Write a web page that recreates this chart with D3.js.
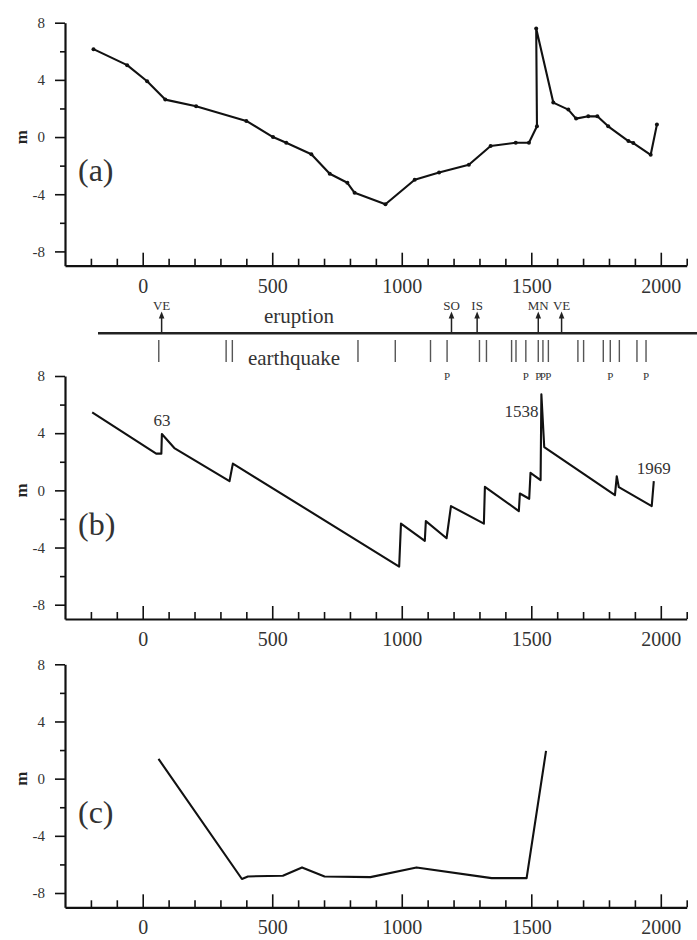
<!DOCTYPE html>
<html>
<head>
<meta charset="utf-8">
<script src="https://cdn.jsdelivr.net/npm/d3@7"></script>
<style>
body{margin:0;background:#fff}
svg text{font-family:"Liberation Serif","DejaVu Serif","Times New Roman",serif}
</style>
</head>
<body>
<div id="chart"></div>
<script>
// panel (a) - measured levels
var yearsA = [-190,-60,17,87,206,400,503,554,651,722,790,818,937,1050,1144,1259,1343,1440,1491,1522,1519,1585,1643,1673,1720,1755,1797,1875,1894,1961,1985];
var levelA = [6.15,5.03,3.9,2.62,2.15,1.13,0,-0.4,-1.2,-2.57,-3.2,-3.9,-4.7,-2.99,-2.48,-1.94,-0.63,-0.4,-0.4,0.75,7.6,2.41,1.92,1.29,1.45,1.45,0.75,-0.28,-0.42,-1.24,0.87];
// panel (b) - model
var yearsB = [-195,52,72,74,122,335,348,990,997,1089,1093,1173,1190,1317,1321,1452,1456,1492,1497,1536,1539,1550,1823,1830,1838,1965,1973];
var levelB = [5.45,2.57,2.57,3.94,2.96,0.64,1.87,-5.33,-2.33,-3.54,-2.15,-3.35,-1.1,-2.33,0.25,-1.45,-0.22,-0.59,1.22,0.71,6.72,3.03,-0.34,0.99,0.22,-1.1,0.64];
var notesB = ["63","1538","1969"];
var noteYearsB = [74,1539,1973];
// panel (c)
var yearsC = [61,383,406,541,615,702,879,1057,1347,1482,1557];
var levelC = [1.38,-7.02,-6.84,-6.79,-6.21,-6.84,-6.89,-6.21,-6.96,-6.96,1.94];
// events strip
var eruptionYears = [73,1192,1291,1527,1617];
var eruptionLabels = ["VE","SO","IS","MN","VE"];
var quakeYears = [62,322,346,831,975,1111,1175,1300,1327,1424,1441,1479,1527,1545,1566,1680,1702,1778,1805,1840,1908,1943];
var pYears = [1175,1479,1527,1545,1566,1805,1943];
// ticks
var xMajor = [0,500,1000,1500,2000];
var xMinor = [-200,-100,100,200,300,400,600,700,800,900,1100,1200,1300,1400,1600,1700,1800,1900,2100];
var yMajor = [-8,-4,0,4,8];
var yMinor = [-6,-2,2,6];

var W = 697, H = 940, PH = 243;
var svg = d3.select("#chart").append("svg").attr("width", W).attr("height", H);
var x = d3.scaleLinear().domain([-300,2100]).range([65,686.7]);
var plain = function(d){ return String(d); };

function styleAxis(s, size){
  s.attr("font-family", null).attr("font-size", null);
  s.selectAll("text").attr("font-size", size).attr("fill", "#333");
  s.selectAll("line").attr("stroke", "#111").attr("stroke-width", 1.6);
  s.select(".domain").attr("stroke", "#111").attr("stroke-width", 2.2);
}

function panel(top, years, vals, name, dots){
  var y = d3.scaleLinear().domain([-9,8]).range([top+PH, top]);
  var g = svg.append("g");
  var base = top + PH;

  g.append("g").attr("transform", "translate(0,"+base+")")
    .call(d3.axisBottom(x).tickValues(xMinor).tickSize(-7).tickFormat(""))
    .call(function(s){ styleAxis(s, 20); s.select(".domain").remove(); });
  g.append("g").attr("transform", "translate(0,"+base+")")
    .call(d3.axisBottom(x).tickValues(xMajor).tickFormat(plain).tickSizeInner(-13).tickSizeOuter(0).tickPadding(13))
    .call(function(s){ styleAxis(s, 20); });

  g.append("g").attr("transform", "translate(65,0)")
    .call(d3.axisLeft(y).tickValues(yMinor).tickSize(5).tickFormat(""))
    .call(function(s){ styleAxis(s, 15); s.select(".domain").remove(); });
  g.append("g").attr("transform", "translate(65,0)")
    .call(d3.axisLeft(y).tickValues(yMajor).tickFormat(plain).tickSizeInner(10).tickSizeOuter(0).tickPadding(10))
    .call(function(s){ styleAxis(s, 15); });

  g.append("text").attr("transform", "translate(27,"+y(0)+") rotate(-90)")
    .attr("text-anchor", "middle").attr("font-size", 17).attr("font-weight", "bold")
    .attr("fill", "#222").text("m");
  g.append("text").attr("x", 78).attr("y", y(-3.1)).attr("font-size", 32)
    .attr("fill", "#333").text(name);

  var pts = years.map(function(d,i){ return [d, vals[i]]; });
  var line = d3.line().x(function(d){ return x(d[0]); }).y(function(d){ return y(d[1]); });
  g.append("path").datum(pts).attr("d", line)
    .attr("fill", "none").attr("stroke", "#111").attr("stroke-width", 2.1)
    .attr("stroke-linejoin", "round");
  if (dots) {
    g.selectAll(".dot").data(pts).enter().append("circle").classed("dot", true)
      .attr("cx", function(d){ return x(d[0]); }).attr("cy", function(d){ return y(d[1]); })
      .attr("r", 2).attr("fill", "#111");
  }
  return y;
}

panel(22.7, yearsA, levelA, "(a)", true);
panel(376, yearsB, levelB, "(b)", false);
panel(664.3, yearsC, levelC, "(c)", false);

// annotations on (b)
var noteDx = [0, -3, 0], noteY = [426, 417, 474], noteAnchor = ["middle","end","middle"];
svg.selectAll(".noteB").data(notesB).enter().append("text").classed("noteB", true)
  .attr("x", function(d,i){ return x(noteYearsB[i]) + noteDx[i]; })
  .attr("y", function(d,i){ return noteY[i]; })
  .attr("text-anchor", function(d,i){ return noteAnchor[i]; })
  .attr("font-size", 17).attr("fill", "#333").text(function(d){ return d; });

// events strip
var strip = svg.append("g");
strip.append("line").attr("x1", 98).attr("x2", W).attr("y1", 333.3).attr("y2", 333.3)
  .attr("stroke", "#222").attr("stroke-width", 2.6);
strip.append("text").attr("x", 299).attr("y", 323).attr("text-anchor", "middle")
  .attr("font-size", 21).attr("fill", "#333").text("eruption");
strip.append("text").attr("x", 294).attr("y", 365).attr("text-anchor", "middle")
  .attr("font-size", 21).attr("fill", "#333").text("earthquake");

strip.selectAll(".erup").data(eruptionYears).enter().append("line").classed("erup", true)
  .attr("x1", function(d){ return x(d); }).attr("x2", function(d){ return x(d); })
  .attr("y1", 333).attr("y2", 316).attr("stroke", "#222").attr("stroke-width", 1.5);
strip.selectAll(".head").data(eruptionYears).enter().append("path").classed("head", true)
  .attr("d", function(d){ var c = x(d); return "M"+(c-2.8)+",318.5L"+c+",311.5L"+(c+2.8)+",318.5Z"; })
  .attr("fill", "#222");
strip.selectAll(".elab").data(eruptionLabels).enter().append("text").classed("elab", true)
  .attr("x", function(d,i){ return x(eruptionYears[i]); }).attr("y", 309.5)
  .attr("text-anchor", "middle").attr("font-size", 13).attr("fill", "#333")
  .text(function(d){ return d; });

strip.selectAll(".eq").data(quakeYears).enter().append("line").classed("eq", true)
  .attr("x1", function(d){ return x(d); }).attr("x2", function(d){ return x(d); })
  .attr("y1", 340).attr("y2", 362).attr("stroke", "#555").attr("stroke-width", 1.4);
strip.selectAll(".plab").data(pYears).enter().append("text").classed("plab", true)
  .attr("x", function(d){ return x(d); }).attr("y", 380)
  .attr("text-anchor", "middle").attr("font-size", 11).attr("fill", "#333").text("P");
</script>
</body>
</html>
